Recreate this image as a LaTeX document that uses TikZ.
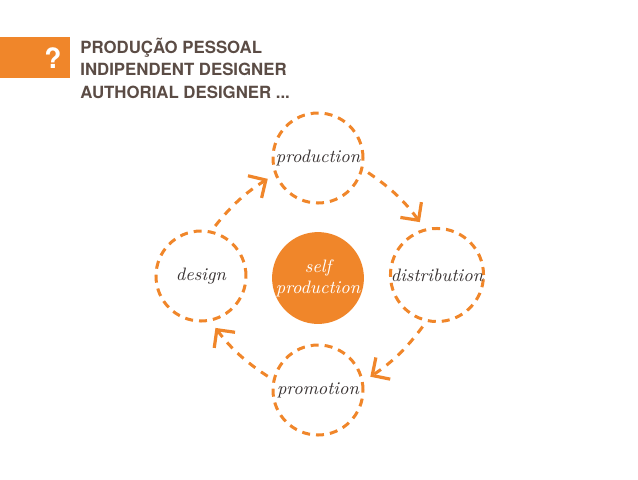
\documentclass[tikz,border=0pt]{standalone}
\usepackage{fontspec}
\newfontfamily\headfont{TeX Gyre Heros}
\usetikzlibrary{arrows.meta}
\definecolor{selforange}{HTML}{F0862A}
\definecolor{headgray}{HTML}{5B4C45}
\definecolor{labelgray}{HTML}{3A3434}
\tikzset{
  stage/.style={circle, draw=selforange, line width=1.5pt, dash pattern=on 4pt off 3pt,
    minimum size=45pt, inner sep=0pt, font=\itshape\fontsize{9}{10}\selectfont, text=labelgray},
  flow/.style={draw=selforange, line width=1.5pt, dash pattern=on 4pt off 3.5pt,
    shorten <=3pt, shorten >=4pt, bend left=10,
    -{Straight Barb[length=6.5pt,width=13pt,line width=1.6pt]}},
  headline/.style={anchor=base west, inner sep=0pt, text=headgray,
    font=\headfont\bfseries\fontsize{8.4}{10}\selectfont}
}
\begin{document}
\begin{tikzpicture}[x=0.5pt,y=-0.5pt]
  \useasboundingbox (0,0) rectangle (638,479);
  % header
  \filldraw[fill=selforange, draw=none] (0,37) rectangle (70,78);
  \node[text=white, font=\headfont\bfseries\fontsize{14}{14}\selectfont] (qmark) at (53,58) {?};
  \node[headline] (line1) at (80,53) {PRODUÇÃO PESSOAL};
  \node[headline] (line2) at (80,75) {INDIPENDENT DESIGNER};
  \node[headline] (line3) at (80,98) {AUTHORIAL DESIGNER ...};
  % cycle
  \node[stage] (production) at (318,158) {production};
  \node[stage] (distribution) at (437,275) {distribution};
  \node[stage] (promotion) at (318,390) {promotion};
  \node[stage] (design) at (201,276) {design};
  \node[circle, fill=selforange, minimum size=44pt, inner sep=0pt, text=white,
    align=center, font=\itshape\fontsize{9}{10.5}\selectfont] (self) at (318,278) {self\\production};
  \draw[flow] (design.77) to (production.201);
  \draw[flow] (production.-14) to (distribution.105);
  \draw[flow] (distribution.257) to (promotion.11);
  \draw[flow] (promotion.167) to (design.282);
\end{tikzpicture}
\end{document}
